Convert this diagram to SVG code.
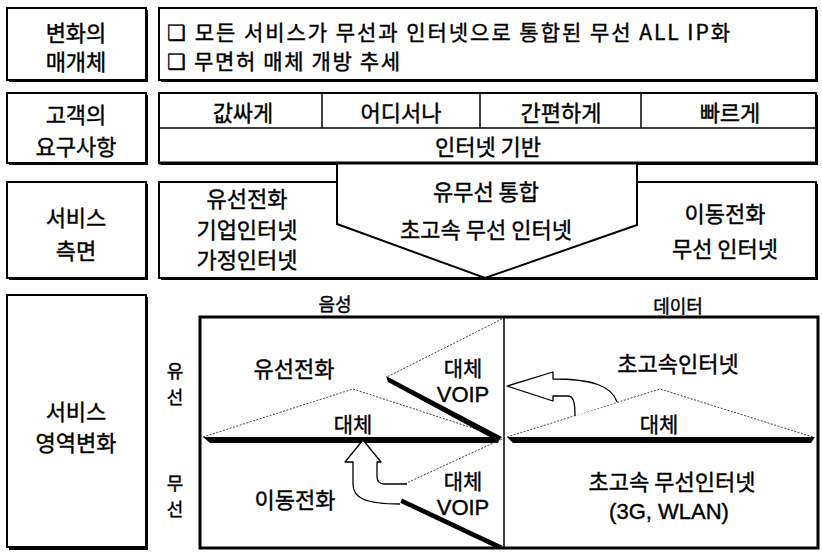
<svg xmlns="http://www.w3.org/2000/svg" width="822" height="552" viewBox="0 0 822 552">
<defs>
<style>
text{font-family:"Noto Sans CJK KR","Noto Sans",sans-serif;fill:#000;stroke:#000;stroke-width:0.4;text-anchor:middle;dominant-baseline:central}
.lbl{font-size:22px}
.t22{font-size:22px}
.t21{font-size:21px}
.t18{font-size:18px}
.lat{font-family:"Liberation Sans",Arial,sans-serif}
.box{fill:#fff;stroke:#000;stroke-width:2}
.sh{fill:#000}
.thin{fill:none;stroke:#000;stroke-width:1.5}
.dot{fill:none;stroke:#444;stroke-width:1;stroke-dasharray:2 1.5}
.thick{fill:#000;stroke:none}
.arr{fill:#fff;stroke:#000;stroke-width:1.3;stroke-linejoin:round}
</style>
</defs>
<rect width="822" height="552" fill="#fff"/>

<g id="row1-label">
<rect class="sh" x="9" y="10" width="139" height="72"/>
<rect class="box" x="7" y="8" width="139" height="72"/>
<text class="lbl" x="76" y="31">변화의</text>
<text class="lbl" x="76" y="60">매개체</text>
</g>
<g id="row1-content">
<rect class="sh" x="161" y="10" width="657" height="72"/>
<rect class="box" x="159" y="8" width="657" height="72"/>
<text class="t21" x="167" y="31" style="text-anchor:start" textLength="563" lengthAdjust="spacing">❑ 모든 서비스가 무선과 인터넷으로 통합된 무선 ALL IP화</text>
<text class="t21" x="167" y="60" style="text-anchor:start" textLength="233" lengthAdjust="spacing">❑ 무면허 매체 개방 추세</text>
</g>

<g id="row2-label">
<rect class="sh" x="9" y="95" width="139" height="70"/>
<rect class="box" x="7" y="93" width="139" height="70"/>
<text class="lbl" x="76" y="113">고객의</text>
<text class="lbl" x="76" y="145">요구사항</text>
</g>
<g id="row2-content">
<rect class="sh" x="161" y="95" width="657" height="70"/>
<rect class="box" x="159" y="93" width="657" height="70"/>
<line class="thin" x1="159" y1="128" x2="816" y2="128"/>
<line class="thin" x1="322" y1="93" x2="322" y2="128"/>
<line class="thin" x1="480" y1="93" x2="480" y2="128"/>
<line class="thin" x1="641" y1="93" x2="641" y2="128"/>
<text class="t22" x="243" y="111">값싸게</text>
<text class="t22" x="401" y="111">어디서나</text>
<text class="t22" x="561" y="111">간편하게</text>
<text class="t22" x="730" y="111">빠르게</text>
<text class="t22" x="488" y="145">인터넷 기반</text>
</g>

<g id="row3-label">
<rect class="sh" x="9" y="184" width="139" height="96"/>
<rect class="box" x="7" y="182" width="139" height="96"/>
<text class="lbl" x="76" y="216">서비스</text>
<text class="lbl" x="76" y="249">측면</text>
</g>
<g id="row3-content">
<rect class="sh" x="161" y="184" width="657" height="96"/>
<rect class="box" x="159" y="182" width="657" height="96"/>
<text class="t22" x="247" y="197">유선전화</text>
<text class="t22" x="247" y="228">기업인터넷</text>
<text class="t22" x="247" y="258">가정인터넷</text>
<text class="t22" x="725" y="212">이동전화</text>
<text class="t22" x="725" y="247">무선 인터넷</text>
</g>
<g id="convergence">
<polygon points="337,163 637,163 637,225 485,278 337,224" fill="#fff" stroke="#000" stroke-width="2" stroke-linejoin="miter"/>
<line x1="159" y1="163" x2="818" y2="163" stroke="#000" stroke-width="3"/>
<text class="t22" x="486" y="190">유무선 통합</text>
<text class="t22" x="486" y="228">초고속 무선 인터넷</text>
</g>

<g id="row4-label">
<rect class="sh" x="9" y="297" width="139" height="253"/>
<rect class="box" x="7" y="295" width="139" height="252"/>
<text class="lbl" x="76" y="410">서비스</text>
<text class="lbl" x="76" y="441">영역변화</text>
</g>

<g id="axis-labels">
<text class="t18" x="335" y="303">음성</text>
<text class="t18" x="678" y="305">데이터</text>
<text class="t18" x="175" y="370">유</text>
<text class="t18" x="175" y="396">선</text>
<text class="t18" x="175" y="482">무</text>
<text class="t18" x="175" y="508">선</text>
</g>

<g id="grid">
<rect x="200" y="317" width="618" height="231" fill="#fff" stroke="#000" stroke-width="3"/>
<line x1="504" y1="317" x2="504" y2="548" stroke="#000" stroke-width="1.5"/>
</g>

<g id="cell-wired-voice">
<text class="t22" x="294" y="367">유선전화</text>
</g>
<g id="cell-wireless-voice">
<text class="t22" x="295" y="498">이동전화</text>
</g>
<g id="cell-wired-data">
<text class="t22" x="678" y="362">초고속인터넷</text>
</g>
<g id="cell-wireless-data">
<text class="t22" x="672" y="480">초고속 무선인터넷</text>
<text class="lat" x="669" y="511" style="font-size:22px">(3G, WLAN)</text>
</g>

<g id="connectors">
<polyline class="dot" points="203,437 353,389 500,437"/>
<polygon class="thick" points="203,437 501,437 498,443 210,443"/>
<polyline class="dot" points="507,437 660,389 813,437"/>
<polygon class="thick" points="507,437 815,437 811,443 513,443"/>
<line class="dot" x1="502" y1="319" x2="387" y2="377"/>
<polygon class="thick" points="386,376 502,437 497,441 388,382"/>
<line class="dot" x1="502" y1="439" x2="387" y2="492"/>
<polygon class="thick" points="386,491 503,546 496,548 388,497"/>
<path class="arr" d="M617,402 C612,386 592,379 553,379 L553,372 L507,386 L553,401 L553,396 L568,396 C573,396 575,401 575,416"/>
<path class="arr" d="M407,484 L384,484 C379,484 377,481 377,476 L377,462 L381,462 L363,440 L345,462 L353,462 L353,484 C353,498 365,504 400,504"/>
</g>

<g id="substitution-labels">
<text class="t21" x="463" y="367">대체</text>
<text class="lat" x="463" y="394" style="font-size:22px">VOIP</text>
<text class="t21" x="353" y="423">대체</text>
<text class="t21" x="463" y="480">대체</text>
<text class="lat" x="463" y="507" style="font-size:22px">VOIP</text>
<text class="t21" x="659" y="423">대체</text>
</g>
</svg>
